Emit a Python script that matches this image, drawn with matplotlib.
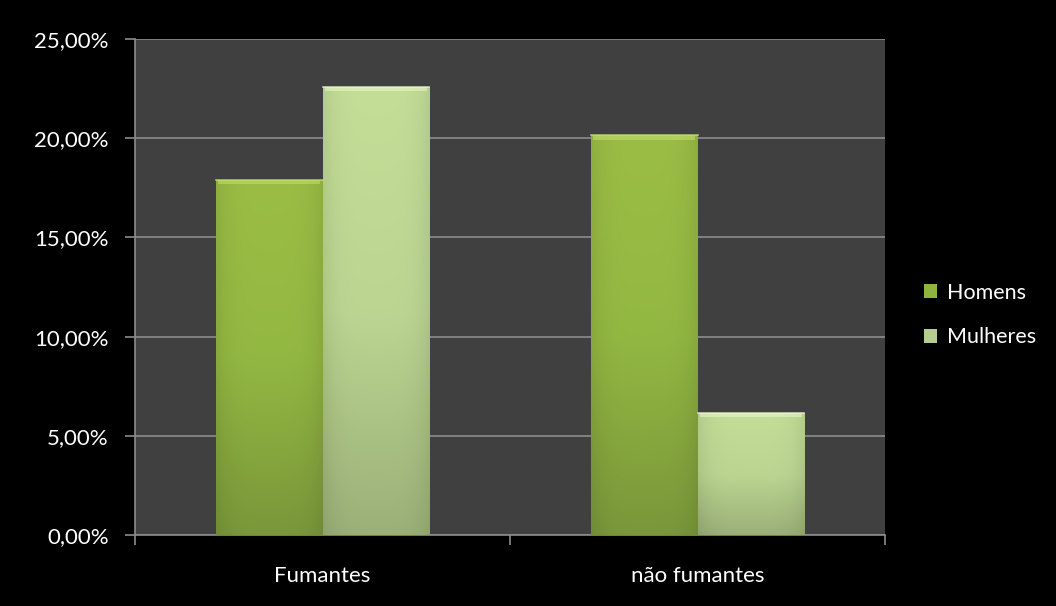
import matplotlib
matplotlib.use('Agg')
from matplotlib import pyplot as plt
from matplotlib.patches import Patch
from matplotlib.colors import LinearSegmentedColormap
import numpy as np

categorias = ['Fumantes', 'não fumantes']
homens = [17.9, 20.15]
mulheres = [22.6, 6.15]
series = ['Homens', 'Mulheres']
yticks = [0, 5, 10, 15, 20, 25]
ylabels = ['0,00%', '5,00%', '10,00%', '15,00%', '20,00%', '25,00%']

plt.rcParams['font.family'] = ['Lato', 'DejaVu Sans']

fig = plt.figure(figsize=(10.56, 6.06), dpi=100, facecolor='black')
ax = fig.add_axes([135/1056, 1-535/606, 750/1056, 496/606])
ax.set_facecolor('#404040')

# gradientes (cima -> baixo)
cmap_h = LinearSegmentedColormap.from_list('h', ['#9bbd45', '#93b842', '#7a973a'])
cmap_m = LinearSegmentedColormap.from_list('m', ['#c4de98', '#bcd692', '#9bb078'])
topo_h = '#c2e070'
topo_m = '#eaf7cc'

x = np.arange(len(categorias))
w = 0.283

def barra_gradiente(bars, cmap, topo):
    for b in bars:
        x0, y0 = b.get_x(), b.get_y()
        bw, bh = b.get_width(), b.get_height()
        grad = np.linspace(0, 1, 256).reshape(-1, 1)
        lado = 1 - 0.08 * np.abs(np.linspace(-1, 1, 64)) ** 4
        img = cmap(np.repeat(grad, 64, axis=1))[:, :, :3]
        img = img * lado[None, :, None]
        im = ax.imshow(img, extent=[x0, x0 + bw, y0, y0 + bh], aspect='auto',
                       origin='upper', zorder=3, interpolation='bilinear')
        im.set_clip_path(b)
        ax.fill_between([x0 + bw * 0.02, x0 + bw * 0.98], y0 + bh - 0.22, y0 + bh,
                        color=topo, alpha=0.55, lw=0, zorder=4)
        ax.plot([x0, x0 + bw], [y0 + bh, y0 + bh], color=topo, lw=1.2, zorder=4, alpha=0.8)

b1 = ax.bar(x - w/2, homens, w, color='#93b842', zorder=2, linewidth=0)
b2 = ax.bar(x + w/2, mulheres, w, color='#bcd692', zorder=2, linewidth=0)
barra_gradiente(b1, cmap_h, topo_h)
barra_gradiente(b2, cmap_m, topo_m)

ax.set_xlim(-0.5, 1.5)
ax.set_ylim(0, 25)
ax.set_yticks(yticks)
ax.set_yticklabels(ylabels, color='white', fontsize=16)
ax.yaxis.grid(True, color='#8c8c8c', lw=1.2, zorder=1)
ax.set_axisbelow(True)

ax.set_xticks(x)
ax.set_xticklabels(categorias, color='white', fontsize=16)
ax.set_xticks([-0.5, 0.5, 1.5], minor=True)
ax.tick_params(axis='x', which='major', length=0, pad=22)
ax.tick_params(axis='x', which='minor', length=7, color='#8c8c8c', width=1.2)
ax.tick_params(axis='y', length=7, color='#8c8c8c', width=1.2, pad=12)

for s in ['top', 'right']:
    ax.spines[s].set_visible(False)
for s in ['left', 'bottom']:
    ax.spines[s].set_color('#8c8c8c')
    ax.spines[s].set_linewidth(1.2)

handles = [Patch(facecolor='#8fb33f', edgecolor='none'),
           Patch(facecolor='#b5cc90', edgecolor='none')]
leg = fig.legend(handles, series, loc='center left', bbox_to_anchor=(905/1056, 1-315/606),
                 frameon=False, fontsize=15.5, labelcolor='white', handlelength=0.6,
                 handleheight=0.6, handletextpad=0.45, labelspacing=1.15)

fig.savefig('out.png', dpi=100, facecolor='black')
